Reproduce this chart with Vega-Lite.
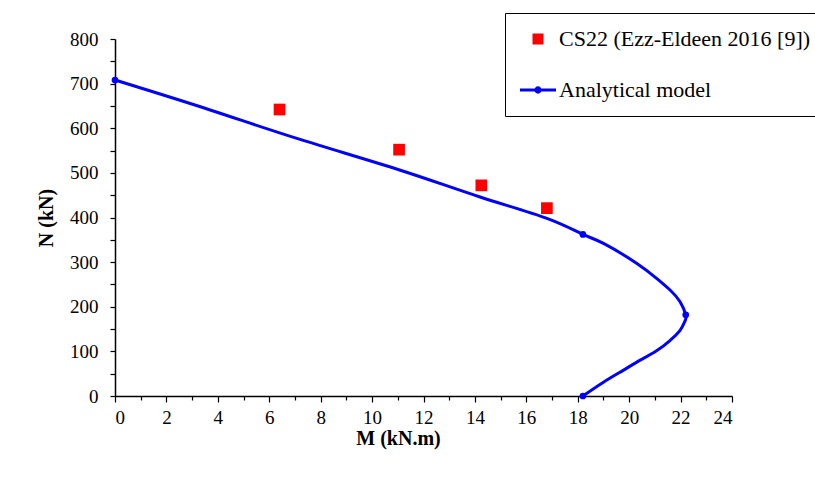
{
  "$schema": "https://vega.github.io/schema/vega-lite/v6.json",
  "autosize": {"type": "none"},
  "padding": {"left": 115, "top": 39, "right": 83, "bottom": 81},
  "width": 617,
  "height": 357,
  "background": "white",
  "config": {
    "view": {"stroke": null},
    "axis": {
      "labelFont": "Liberation Serif",
      "labelFontSize": 19,
      "labelColor": "black",
      "titleFont": "Liberation Serif",
      "titleFontSize": 20,
      "titleFontWeight": "bold",
      "titleColor": "black",
      "tickColor": "black",
      "domainColor": "black",
      "domainWidth": 1.5,
      "tickWidth": 1.2,
      "grid": false
    }
  },
  "data": {
    "values": [
      {"series": "Analytical model", "kind": "curve", "order": 1, "M": 0, "N": 708},
      {"series": "Analytical model", "kind": "curve", "order": 2, "M": 3.7, "N": 641},
      {"series": "Analytical model", "kind": "curve", "order": 3, "M": 7.2, "N": 575},
      {"series": "Analytical model", "kind": "curve", "order": 4, "M": 11.1, "N": 506},
      {"series": "Analytical model", "kind": "curve", "order": 5, "M": 14.2, "N": 446},
      {"series": "Analytical model", "kind": "curve", "order": 6, "M": 16.8, "N": 398},
      {"series": "Analytical model", "kind": "curve", "order": 7, "M": 18.2, "N": 362},
      {"series": "Analytical model", "kind": "curve", "order": 8, "M": 19.0, "N": 342},
      {"series": "Analytical model", "kind": "curve", "order": 9, "M": 20.3, "N": 297},
      {"series": "Analytical model", "kind": "curve", "order": 10, "M": 21.08, "N": 263},
      {"series": "Analytical model", "kind": "curve", "order": 11, "M": 21.6, "N": 237},
      {"series": "Analytical model", "kind": "curve", "order": 12, "M": 21.98, "N": 211},
      {"series": "Analytical model", "kind": "curve", "order": 13, "M": 22.2, "N": 182},
      {"series": "Analytical model", "kind": "curve", "order": 14, "M": 22.18, "N": 169},
      {"series": "Analytical model", "kind": "curve", "order": 15, "M": 21.98, "N": 147},
      {"series": "Analytical model", "kind": "curve", "order": 16, "M": 21.6, "N": 125},
      {"series": "Analytical model", "kind": "curve", "order": 17, "M": 21.08, "N": 102},
      {"series": "Analytical model", "kind": "curve", "order": 18, "M": 20.3, "N": 76},
      {"series": "Analytical model", "kind": "curve", "order": 19, "M": 19.78, "N": 58},
      {"series": "Analytical model", "kind": "curve", "order": 20, "M": 19.0, "N": 31},
      {"series": "Analytical model", "kind": "curve", "order": 21, "M": 18.2, "N": 0},
      {"series": "Analytical model", "kind": "marker", "order": 1, "M": 0, "N": 708},
      {"series": "Analytical model", "kind": "marker", "order": 2, "M": 18.2, "N": 362},
      {"series": "Analytical model", "kind": "marker", "order": 3, "M": 22.2, "N": 182},
      {"series": "Analytical model", "kind": "marker", "order": 4, "M": 18.2, "N": 0},
      {"series": "CS22 (Ezz-Eldeen 2016 [9])", "kind": "test", "order": 1, "M": 6.4, "N": 642},
      {"series": "CS22 (Ezz-Eldeen 2016 [9])", "kind": "test", "order": 2, "M": 11.05, "N": 552},
      {"series": "CS22 (Ezz-Eldeen 2016 [9])", "kind": "test", "order": 3, "M": 14.25, "N": 472},
      {"series": "CS22 (Ezz-Eldeen 2016 [9])", "kind": "test", "order": 4, "M": 16.8, "N": 421}
    ]
  },
  "encoding": {
    "x": {
      "field": "M", "type": "quantitative",
      "scale": {"domain": [0, 24], "nice": false, "zero": false},
      "axis": {
        "title": "M (kN.m)",
        "labelFont": "Liberation Serif",
        "labelFontSize": 19,
        "values": [0,1,2,3,4,5,6,7,8,9,10,11,12,13,14,15,16,17,18,19,20,21,22,23,24],
        "labelExpr": "datum.value % 2 === 0 ? datum.label : ''",
        "tickSize": {"condition": {"test": "datum.value % 2 === 1", "value": 4}, "value": 6},
        "labelPadding": 6,
        "titlePadding": 1,
        "titleX": 283,
        "encode": {"labels": {"update": {"font": {"value": "Liberation Serif"}, "fontSize": {"value": 19}}}}
      }
    },
    "y": {
      "field": "N", "type": "quantitative",
      "scale": {"domain": [0, 800], "nice": false},
      "axis": {
        "title": "N (kN)",
        "labelFont": "Liberation Serif",
        "labelFontSize": 19,
        "values": [0,50,100,150,200,250,300,350,400,450,500,550,600,650,700,750,800],
        "labelExpr": "datum.value % 100 === 0 ? datum.label : ''",
        "tickSize": 5,
        "labelPadding": 12,
        "titlePadding": 13,
        "encode": {"labels": {"update": {"font": {"value": "Liberation Serif"}, "fontSize": {"value": 19}}}}
      }
    },
    "color": {
      "field": "series", "type": "nominal",
      "scale": {"domain": ["CS22 (Ezz-Eldeen 2016 [9])", "Analytical model"], "range": ["#ff0000", "#0000ff"]},
      "legend": {
        "title": null,
        "orient": "none",
        "legendX": 390,
        "legendY": -26,
        "strokeColor": "black",
        "padding": 15,
        "rowPadding": 29,
        "labelFont": "Liberation Serif",
        "labelFontSize": 22,
        "labelColor": "black",
        "labelOffset": 10,
        "symbolOffset": 7,
        "labelLimit": 0,
        "symbolSize": 1296,
        "symbolType": "square",
        "encode": {
          "symbols": {
            "update": {
              "shape": {"signal": "datum.value === 'Analytical model' ? 'M-1,0L1,0M0.12,0A0.12,0.12,0,1,1,-0.12,0A0.12,0.12,0,1,1,0.12,0Z' : 'square'"},
              "size": {"signal": "datum.value === 'Analytical model' ? 1296 : 121"},
              "fill": {"signal": "datum.value === 'Analytical model' ? '#0000ff' : '#ff0000'"},
              "stroke": {"signal": "datum.value === 'Analytical model' ? '#0000ff' : '#ff0000'"},
              "strokeWidth": {"signal": "datum.value === 'Analytical model' ? 3 : 0"},
              "opacity": {"value": 1},
              "fillOpacity": {"value": 1}
            }
          }
        }
      }
    }
  },
  "layer": [
    {
      "transform": [{"filter": "datum.kind === 'curve'"}],
      "mark": {"type": "line", "interpolate": "natural", "strokeWidth": 3},
      "encoding": {"order": {"field": "order", "type": "quantitative"}}
    },
    {
      "transform": [{"filter": "datum.kind === 'marker'"}],
      "mark": {"type": "point", "shape": "circle", "filled": true, "size": 45, "opacity": 1}
    },
    {
      "transform": [{"filter": "datum.kind === 'test'"}],
      "mark": {"type": "point", "shape": "square", "filled": true, "size": 137, "opacity": 1}
    }
  ]
}
